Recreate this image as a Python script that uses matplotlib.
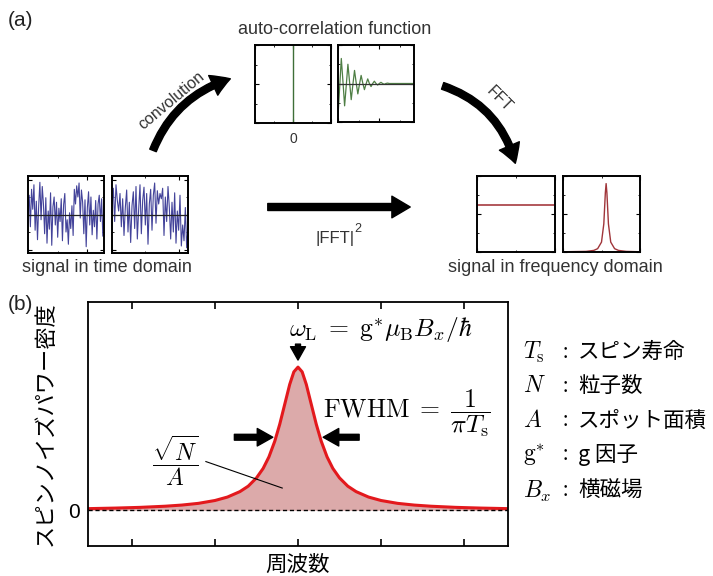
import matplotlib.pyplot as plt
from matplotlib.patches import FancyArrowPatch
from matplotlib.ticker import AutoMinorLocator

plt.rcParams['mathtext.fontset'] = 'cm'
plt.rcParams['font.family'] = ['Liberation Sans', 'Noto Sans CJK JP', 'DejaVu Sans']

# Figure size in pixels
W, H = 713, 576

### Data
# (a) time domain noise traces (two panels)
noise_1 = [0.05, 0.55, -0.35, 0.72, 0.15, 0.85, -0.45, 0.38, -0.72, 0.25, 0.92,
           -0.15, 0.8, 0.3, -0.55, 0.48, -0.82, 0.1, -0.42, 0.62, -0.88, 0.22,
           0.5, -0.3, 0.35, -0.65, 0.18, -0.2, 0.45, -0.75, 0.28, 0.6, -0.5,
           -0.15, -0.85, 0.05, -0.4, 0.25, -0.6, 0.72, 0.3, 0.82, 0.5, 0.9,
           -0.1, 0.7, 0.35, -0.55, 0.42, -0.92, 0.2, 0.65, -0.3, 0.5, -0.58,
           0.12, -0.35, 0.4, -0.7, 0.3, 0.55, -0.2, 0.45, -0.62, 0.15]
noise_2 = [0.3, 0.75, -0.2, 0.85, 0.4, 0.1, 0.6, -0.35, 0.45, -0.6, 0.2, 0.7,
           -0.5, 0.35, -0.8, 0.25, 0.65, -0.4, 0.8, -0.7, 0.15, 0.85, -0.55,
           0.4, 0.78, -0.3, 0.6, -0.85, 0.3, 0.72, -0.45, 0.55, 0.9, -0.25,
           0.68, 0.3, 0.6, 0.45, 0.75, -0.6, 0.5, -0.2, 0.8, 0.2, -0.7, 0.35,
           -0.5, 0.62, -0.82, 0.1, -0.45, 0.55, -0.9, -0.3, -0.75, 0.2, -0.95,
           -0.4]

# (a) auto-correlation function (damped oscillation)
acf = [-0.85, -0.1, 0.65, 0.05, -0.58, -0.05, 0.5, 0.04, -0.42, -0.03, 0.34,
       0.02, -0.27, -0.02, 0.21, 0.01, -0.16, -0.01, 0.12, 0.0, -0.08, 0.0,
       0.06, 0.0, -0.04, 0.0, 0.03, 0.0, -0.02, 0.0, 0.01, 0.0, 0.0, 0.0, 0.0,
       0.0, 0.0, 0.0, 0.0, 0.0, 0.0, 0.0, 0.0, 0.0, 0.0, 0.0, 0.0]

# (a) frequency domain: flat spectrum level and narrow peak
flat_x = [0.0, 1.0]
flat_y = [0.62, 0.62]
peak_x = [0.0, 0.3, 0.4, 0.45, 0.5, 0.53, 0.55, 0.56, 0.57, 0.59, 0.62, 0.67,
          0.72, 0.82, 1.0]
peak_y = [0.003, 0.008, 0.021, 0.044, 0.13, 0.37, 0.78, 0.9, 0.78, 0.37, 0.13,
          0.044, 0.021, 0.008, 0.003]

# (b) spin noise power spectrum
freq = [-2.53, -2.2, -1.9, -1.6, -1.4, -1.2, -1.0, -0.85, -0.7, -0.6, -0.5,
        -0.42, -0.35, -0.28, -0.22, -0.16, -0.1, -0.05, 0.0, 0.05, 0.1, 0.16,
        0.22, 0.28, 0.35, 0.42, 0.5, 0.6, 0.7, 0.85, 1.0, 1.2, 1.4, 1.6, 1.9,
        2.2, 2.53]
power = [0.011, 0.015, 0.020, 0.028, 0.036, 0.048, 0.068, 0.092, 0.13, 0.168,
         0.226, 0.292, 0.373, 0.482, 0.601, 0.74, 0.879, 0.967, 1.0, 0.967,
         0.879, 0.74, 0.601, 0.482, 0.373, 0.292, 0.226, 0.168, 0.13, 0.092,
         0.068, 0.048, 0.036, 0.028, 0.020, 0.015, 0.011]
freq_ticks = [-2, -1, 0, 1, 2]

legend_symbols = [r'$T_\mathrm{s}$', r'$N$', r'$A$', r'$\mathrm{g}^{*}$', r'$B_x$']
legend_words = ['スピン寿命', '粒子数', 'スポット面積', 'g 因子', '横磁場']


def px_box(left, top, right, bottom):
    return [left / W, 1 - bottom / H, (right - left) / W, (bottom - top) / H]


def small_panel(fig, left, top, right, bottom):
    ax = fig.add_axes(px_box(left, top, right, bottom))
    ax.tick_params(which='both', direction='in', top=True, right=True,
                   labelbottom=False, labelleft=False)
    ax.tick_params(which='major', length=3, width=0.8)
    ax.tick_params(which='minor', length=1.5, width=0.6)
    ax.xaxis.set_minor_locator(AutoMinorLocator(2))
    ax.yaxis.set_minor_locator(AutoMinorLocator(2))
    for spine in ax.spines.values():
        spine.set_linewidth(1.4)
    return ax


fig = plt.figure(figsize=(W / 100, H / 100), dpi=100)

# Overlay in pixel coordinates for arrows and captions
ov = fig.add_axes([0, 0, 1, 1])
ov.set_xlim(0, W)
ov.set_ylim(H, 0)
ov.axis('off')

cap_color = '#333333'

### (a) time domain
for left, trace in ((28, noise_1), (112, noise_2)):
    ax = small_panel(fig, left, 176, left + 76, 253)
    ax.plot(range(len(trace)), trace, color='#43439a', lw=0.8)
    ax.axhline(0, color='#222222', lw=0.9)
    ax.set_xlim(0, len(trace) - 1)
    ax.set_ylim(-1.1, 1.1)
ov.text(107, 268, 'signal in time domain', ha='center', va='center',
        fontsize=13, color=cap_color)

### (a) auto-correlation
ax = small_panel(fig, 255, 45, 331, 123)
ax.axvline(0, color='#3f6f38', lw=1.0)
ax.set_xlim(-1, 1)
ax.set_ylim(-1, 1)
ax = small_panel(fig, 338, 45, 414, 122)
ax.plot(range(len(acf)), acf, color='#4f7f45', lw=0.9)
ax.axhline(0, color='#333333', lw=0.9)
ax.set_xlim(0, len(acf) - 1)
ax.set_ylim(-1, 1)
ov.text(335, 30, 'auto-correlation function', ha='center', va='center',
        fontsize=13, color=cap_color)
ov.text(293, 139, '0', ha='center', va='center', fontsize=10, color=cap_color)

### (a) frequency domain
ax = small_panel(fig, 477, 176, 555, 252)
ax.plot(flat_x, flat_y, color='#9e2a2f', lw=1.1)
ax.set_xlim(0, 1)
ax.set_ylim(0, 1)
ax = small_panel(fig, 563, 176, 640, 252)
ax.plot(peak_x, peak_y, color='#a0353a', lw=1.0)
ax.set_xlim(0, 1)
ax.set_ylim(0, 1)
ov.text(555, 267, 'signal in frequency domain', ha='center', va='center',
        fontsize=13, color=cap_color)

### (a) arrows
big_head = 'simple,head_width=1.3,head_length=1.1,tail_width=0.42'
ov.add_patch(FancyArrowPatch((152, 153), (233, 78), connectionstyle='arc3,rad=-0.25',
                             arrowstyle=big_head, mutation_scale=12, color='black'))
ov.add_patch(FancyArrowPatch((440, 85), (516, 166), connectionstyle='arc3,rad=-0.28',
                             arrowstyle=big_head, mutation_scale=12, color='black'))
ov.add_patch(FancyArrowPatch((265, 207), (413, 207), arrowstyle=big_head,
                             mutation_scale=12, color='black'))
ov.text(172, 101, 'convolution', rotation=40, ha='center', va='center',
        fontsize=11.5, color=cap_color)
ov.text(499, 99, 'FFT', rotation=-45, ha='center', va='center',
        fontsize=11.5, color=cap_color)
ov.text(335, 238, '|FFT|', ha='center', va='center', fontsize=12, color=cap_color)
ov.text(358, 229, '2', ha='center', va='center', fontsize=9, color=cap_color)

ov.text(8, 20, '(a)', ha='left', va='center', fontsize=15, color='#222222')
ov.text(8, 305, '(b)', ha='left', va='center', fontsize=15, color='#222222')

### (b) spin noise spectrum
ax = fig.add_axes(px_box(88, 302, 508, 546))
ax.fill_between(freq, 0, power, color='#dcaaaa', lw=0)
ax.plot(freq, power, color='#e3191d', lw=2.2, solid_capstyle='butt')
ax.axhline(0, color='black', lw=1.0, ls=(0, (3, 2)))
ax.set_xlim(-2.53, 2.53)
ax.set_ylim(-0.25, 1.455)
ax.set_xticks(freq_ticks)
ax.set_xticklabels([])
ax.set_yticks([0])
ax.set_yticklabels(['0'], fontsize=15)
ax.tick_params(axis='x', direction='in', top=True, length=5, width=1.2)
ax.tick_params(axis='y', length=0, pad=6)
for spine in ax.spines.values():
    spine.set_linewidth(1.3)
ax.set_xlabel('周波数', fontsize=15.5, family='Noto Sans CJK JP', labelpad=2)
ax.set_ylabel('スピンノイズパワー密度', fontsize=16, family='Noto Sans CJK JP',
              labelpad=8)

small_head = 'simple,head_width=0.9,head_length=0.8,tail_width=0.3'
ax.annotate('', xy=(0, 1.03), xytext=(0, 1.18),
            arrowprops=dict(arrowstyle=small_head, color='black', mutation_scale=12))
ax.annotate('', xy=(-0.27, 0.51), xytext=(-0.8, 0.51),
            arrowprops=dict(arrowstyle=small_head, color='black', mutation_scale=14))
ax.annotate('', xy=(0.27, 0.51), xytext=(0.77, 0.51),
            arrowprops=dict(arrowstyle=small_head, color='black', mutation_scale=14))
ax.plot([-1.11, -0.19], [0.34, 0.155], color='black', lw=0.8)

ax.text(1.0, 1.26, r'$\omega_\mathrm{L} \;=\; \mathrm{g}^{*}\mu_\mathrm{B} B_x/\hbar$',
        ha='center', va='center', fontsize=18.5)
ax.text(1.31, 0.68, r'$\mathrm{FWHM} \;=\; \dfrac{1}{\pi T_\mathrm{s}}$',
        ha='center', va='center', fontsize=18.5)
ax.text(-1.48, 0.35, r'$\dfrac{\sqrt{N}}{A}$', ha='center', va='center', fontsize=17)

### (b) symbol list
row_y = [352, 386, 421, 455, 491]
for y, sym, word in zip(row_y, legend_symbols, legend_words):
    ov.text(523, y, sym, ha='left', va='center', fontsize=17)
    ov.text(565, y, ':', ha='center', va='center', fontsize=14,
            family='Noto Sans CJK JP')
    ov.text(578, y, word, ha='left', va='center', fontsize=15.5,
            family='Noto Sans CJK JP')

fig.savefig('out.png', dpi=100)
